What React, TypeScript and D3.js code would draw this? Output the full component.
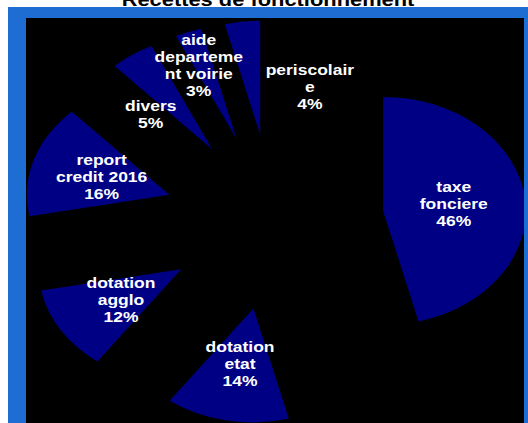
import React, { useEffect, useRef } from "react";
import * as d3 from "d3";

// recettes de fonctionnement, share in %
const categories = [
  "taxe fonciere",
  "dotation etat",
  "dotation agglo",
  "report credit 2016",
  "divers",
  "aide departement voirie",
  "periscolaire",
];
const values = [46, 14, 12, 16, 5, 3, 4];
// label text as wrapped in the original chart
const labelLines = [
  ["taxe", "fonciere"],
  ["dotation", "etat"],
  ["dotation", "agglo"],
  ["report", "credit 2016"],
  ["divers"],
  ["aide", "departeme", "nt voirie"],
  ["periscolair", "e"],
];

// labels that were moved by hand: [angle in degrees, radius]
const labelNudge: Record<string, [number, number]> = {
  divers: [317.5, 146],
  "aide departement voirie": [339, 168],
  periscolaire: [12, 138],
};

const W = 528;
const H = 423;

export default function App() {
  const svgRef = useRef<SVGSVGElement>(null);

  useEffect(() => {
    if (!svgRef.current) return;
    const svg = d3.select(svgRef.current);
    svg.selectAll("*").remove();

    // title, mostly cut off by the top edge
    svg
      .append("text")
      .attr("transform", `translate(268,6) scale(1.25,1)`)
      .attr("text-anchor", "middle")
      .attr("font-family", "Liberation Sans, Arial, sans-serif")
      .attr("font-weight", "bold")
      .attr("font-size", 17.5)
      .attr("fill", "#000")
      .text("Recettes de fonctionnement");

    // frame
    svg.append("rect").attr("x", 8).attr("y", 7).attr("width", W - 8).attr("height", H - 7).attr("fill", "#1d6dd2");
    svg.append("rect").attr("x", 26).attr("y", 18).attr("width", 498).attr("height", H - 18).attr("fill", "#000");

    svg
      .append("clipPath")
      .attr("id", "plot")
      .append("rect")
      .attr("x", 26)
      .attr("y", 18)
      .attr("width", 498)
      .attr("height", H - 18);

    const data = categories.map((c, i) => ({ name: c, value: values[i], lines: labelLines[i] }));
    const pie = d3
      .pie<(typeof data)[number]>()
      .sort(null)
      .value((d) => d.value)
      .startAngle(0)
      .endAngle(2 * Math.PI);
    const arcs = pie(data);

    const radius = 114;
    const explode = 88;
    const arc = d3.arc<d3.PieArcDatum<(typeof data)[number]>>().innerRadius(0).outerRadius(radius);

    // the whole chart is stretched horizontally
    const g = svg
      .append("g")
      .attr("clip-path", "url(#plot)")
      .append("g")
      .attr("transform", `translate(274,222) scale(1.25,1)`);

    const mid = (a: d3.PieArcDatum<any>) => (a.startAngle + a.endAngle) / 2;

    g.selectAll("path.slice")
      .data(arcs)
      .enter()
      .append("path")
      .attr("class", "slice")
      .attr("transform", (a) => {
        const m = mid(a);
        return `translate(${Math.sin(m) * explode},${-Math.cos(m) * explode})`;
      })
      .attr("d", arc)
      .attr("fill", "#000085");

    const lineH = 17;
    const labels = g
      .selectAll("text.lbl")
      .data(arcs)
      .enter()
      .append("text")
      .attr("class", "lbl")
      .attr("text-anchor", "middle")
      .attr("font-family", "Liberation Sans, Arial, sans-serif")
      .attr("font-weight", "bold")
      .attr("font-size", 14)
      .attr("fill", "#fff");

    labels.each(function (a) {
      const nudge = labelNudge[a.data.name];
      const ang = nudge ? (nudge[0] * Math.PI) / 180 : mid(a);
      const r = nudge ? nudge[1] : explode + radius / 2;
      const lx = Math.sin(ang) * r;
      const ly = -Math.cos(ang) * r;
      const lines = [...a.data.lines, `${a.data.value}%`];
      const top = ly - ((lines.length - 1) * lineH) / 2 + 5;
      const t = d3.select(this);
      lines.forEach((l, i) => {
        t.append("tspan").attr("x", lx).attr("y", top + i * lineH).text(l);
      });
    });
  }, []);

  return (
    <svg
      ref={svgRef}
      width={W}
      height={H}
      style={{ position: "absolute", left: 0, top: 0, display: "block", background: "#fff" }}
    />
  );
}
